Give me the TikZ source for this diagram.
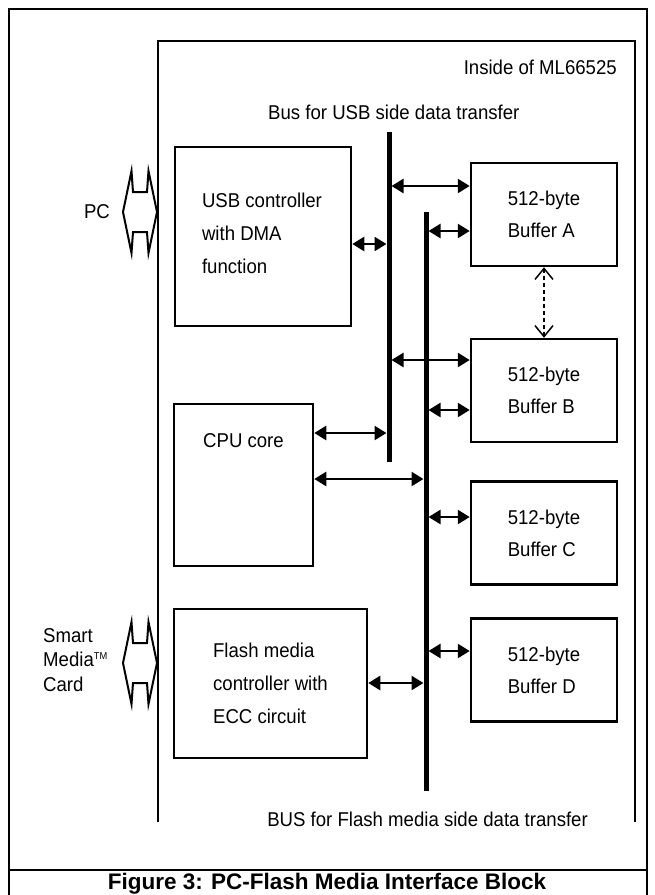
\documentclass[tikz,border=0pt]{standalone}
\usepackage{fontspec}
\setmainfont[FakeStretch=0.93]{Liberation Sans}
\newfontfamily\capfont{Liberation Sans}
\usetikzlibrary{arrows.meta,calc}
\begin{document}
\begin{tikzpicture}[x=1pt,y=-1pt,
  box/.style={draw, line width=2.5pt, inner sep=0pt, align=left, font=\fontsize{20}{33}\selectfont},
  bufbox/.style={box, minimum width=146pt, minimum height=103pt, font=\fontsize{20}{32}\selectfont},
  txt/.style={inner sep=0pt, align=left, font=\fontsize{20}{24.5}\selectfont},
  bus/.style={line width=5pt},
  frame/.style={line width=2.5pt},
  plug/.style={line width=2pt, line join=miter},
  biarrow/.style={line width=2.5pt, {Triangle[length=12pt,width=14pt]}-{Triangle[length=12pt,width=14pt]}},
  dasharrow/.style={line width=1.5pt, dash pattern=on 4pt off 3pt, {Straight Barb[length=11pt,width=18pt]}-{Straight Barb[length=11pt,width=18pt]}}
]
\useasboundingbox (0,0) rectangle (654,895);
% outer frame and caption
\draw[line width=2pt] (9,895) -- (9,9) -- (647,9) -- (647,895);
\draw[frame] (9,870) -- (647,870);
\node[anchor=base, inner sep=0pt, font=\capfont\bfseries\fontsize{22.5}{23}\selectfont] (cap) at (327,889) {Figure 3: PC-Flash Media Interface Block};
% inner frame
\draw[frame] (158,822) -- (158,41) -- (635,41) -- (635,822);
\node[txt, anchor=east] (inside) at (617,67) {Inside of ML66525};
\node[txt, anchor=west] (usbbus) at (268,112) {Bus for USB side data transfer};
\node[txt, anchor=east] (flbus) at (588,819) {BUS for Flash media side data transfer};
% external labels and plugs
\node[txt] (pc) at (97,212) {PC};
\node[txt, anchor=west] (sm) at (43,660) {Smart\\Media{\fontsize{10}{10}\selectfont\raisebox{0.75em}{TM}}\\Card};
\foreach \cy in {212,663}{
  \draw[plug, shift={(140,\cy)}] (-17,0) -- (-8.5,-41) -- (-7,-20) -- (7,-20) -- (8.5,-41) -- (17,0) -- (8.5,41) -- (7,20) -- (-7,20) -- (-8.5,41) -- cycle;
}
% blocks
\node[box, minimum width=176pt, minimum height=179pt] (usb) at (263,236.5) {};
\node[box, draw=none] (usbtxt) at ($(usb.center)+(-1,-3.5)$) {USB controller\\with DMA\\function};
\node[box, minimum width=139pt, minimum height=162pt] (cpu) at (243.5,485) {};
\node[box, draw=none] (cputxt) at ($(cpu.north)+(0,38)$) {CPU core};
\node[box, minimum width=193pt, minimum height=149pt] (flash) at (270.5,683.5) {Flash media\\controller with\\ECC circuit};
\node[bufbox] (bufA) at (544,214.5) {512-byte\\Buffer A};
\node[bufbox] (bufB) at (544,390.5) {512-byte\\Buffer B};
\node[bufbox] (bufC) at (544,533) {512-byte\\Buffer C};
\node[bufbox] (bufD) at (544,670) {512-byte\\Buffer D};
% buses
\coordinate (ubT) at (389,132); \coordinate (ubB) at (389,462);
\coordinate (fbT) at (426,212); \coordinate (fbB) at (426,791);
\draw[bus] (ubT) -- (ubB);
\draw[bus] (fbT) -- (fbB);
% connection points on buses
\coordinate (p1) at (386.5,244);
\coordinate (p2) at (391.5,186);
\coordinate (p3) at (428.5,231);
\coordinate (p4) at (391.5,360);
\coordinate (p5) at (428.5,410);
\coordinate (p6) at (386.5,433);
\coordinate (p7) at (423.5,479);
\coordinate (p8) at (428.5,517);
\coordinate (p9) at (428.5,651);
\coordinate (p10) at (423.5,683);
\draw[biarrow] (usb.east |- p1) -- (p1);
\draw[biarrow] (p2) -- (p2 -| bufA.west);
\draw[biarrow] (p3) -- (p3 -| bufA.west);
\draw[biarrow] (p4) -- (p4 -| bufB.west);
\draw[biarrow] (p5) -- (p5 -| bufB.west);
\draw[biarrow] (cpu.east |- p6) -- (p6);
\draw[biarrow] (cpu.east |- p7) -- (p7);
\draw[biarrow] (p8) -- (p8 -| bufC.west);
\draw[biarrow] (p9) -- (p9 -| bufD.west);
\draw[biarrow] (flash.east |- p10) -- (p10);
\draw[dasharrow] (bufA.south) -- (bufB.north);
\end{tikzpicture}
\end{document}
